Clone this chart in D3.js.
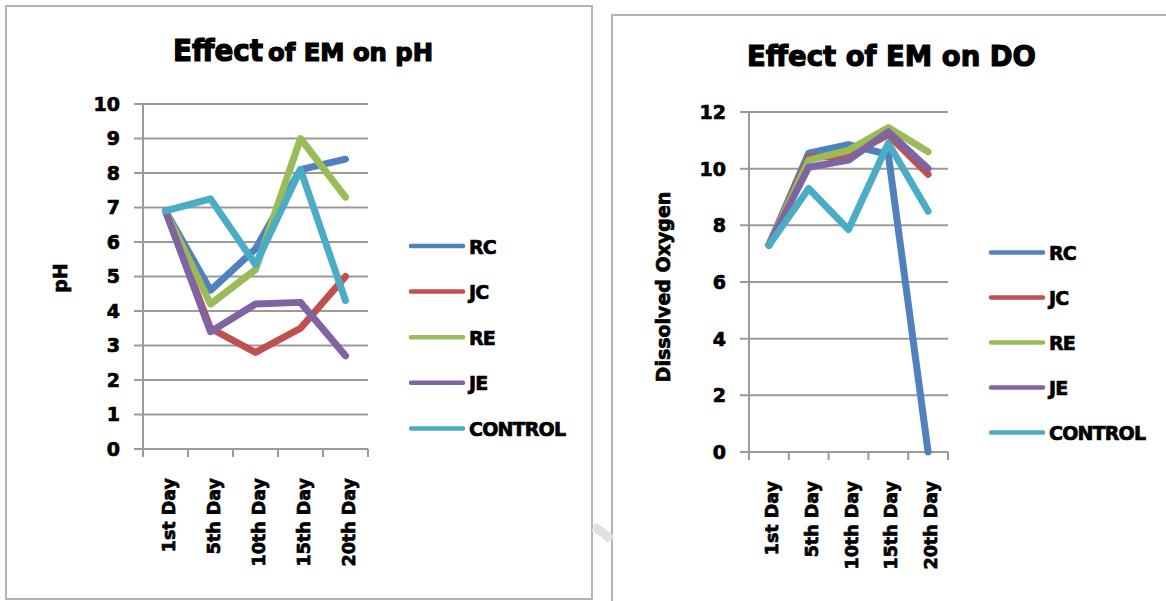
<!DOCTYPE html>
<html>
<head>
<meta charset="utf-8">
<script src="https://cdn.jsdelivr.net/npm/d3@7"></script>
<style>
  html, body { margin: 0; padding: 0; background: #fff; }
  svg { display: block; font-family: "DejaVu Sans", Verdana, sans-serif; font-weight: bold; }
  svg text { stroke: #000; stroke-width: 0.7px; paint-order: stroke; }
  svg text.title { stroke-width: 1.2px; }
</style>
</head>
<body>
<svg id="chart" width="1166" height="601"></svg>
<script>
// ---------- data ----------
const days = ["1st Day", "5th Day", "10th Day", "15th Day", "20th Day"];
const seriesNames = ["RC", "JC", "RE", "JE", "CONTROL"];
const seriesColors = ["#4F81BD", "#C0504D", "#9BBB59", "#8064A2", "#4BACC6"];

// pH values
const phRC      = [6.9, 4.6, 5.8, 8.1, 8.4];
const phJC      = [6.9, 3.5, 2.8, 3.5, 5.0];
const phRE      = [6.9, 4.2, 5.2, 9.0, 7.3];
const phJE      = [6.9, 3.4, 4.2, 4.25, 2.7];
const phCONTROL = [6.9, 7.25, 5.35, 8.1, 4.3];
const phTicks   = [0, 1, 2, 3, 4, 5, 6, 7, 8, 9, 10];

// Dissolved oxygen values
const doRC      = [7.3, 10.55, 10.85, 10.5, 0];
const doJC      = [7.3, 10.4, 10.45, 11.2, 9.8];
const doRE      = [7.3, 10.3, 10.65, 11.45, 10.6];
const doJE      = [7.3, 10.05, 10.3, 11.3, 10.0];
const doCONTROL = [7.3, 9.3, 7.85, 10.9, 8.5];
const doTicks   = [0, 2, 4, 6, 8, 10, 12];

const svg = d3.select("#chart");

// ---------- frames ----------
svg.append("rect").attr("x", 6).attr("y", 6).attr("width", 586).attr("height", 593)
  .attr("fill", "none").attr("stroke", "#b3b3b3").attr("stroke-width", 2);
svg.append("rect").attr("x", 612).attr("y", 15).attr("width", 600).attr("height", 600)
  .attr("fill", "none").attr("stroke", "#b3b3b3").attr("stroke-width", 2);
// faint watermark arc
svg.append("path").attr("d", "M593,527 Q603,531 611,540")
  .attr("fill", "none").attr("stroke", "#e2e2e2").attr("stroke-width", 9);

function drawChart(cfg) {
  const g = svg.append("g");
  const x = d3.scaleBand().domain(days).range([cfg.x0, cfg.x1]);
  const y = d3.scaleLinear().domain([0, cfg.yMax]).range([cfg.y0, cfg.y1]);

  // gridlines
  g.selectAll(".grid").data(cfg.ticks).enter().append("line")
    .attr("x1", cfg.x0 - 9).attr("x2", cfg.x1)
    .attr("y1", d => y(d)).attr("y2", d => y(d))
    .attr("stroke", "#9a9a9a").attr("stroke-width", 2);

  // y axis line
  g.append("line").attr("x1", cfg.x0).attr("x2", cfg.x0)
    .attr("y1", y(cfg.yMax)).attr("y2", cfg.y0 + 8)
    .attr("stroke", "#9a9a9a").attr("stroke-width", 2);

  // x ticks at band boundaries
  const bounds = days.map(d => x(d)).concat([cfg.x1]);
  g.selectAll(".xt").data(bounds.slice(1)).enter().append("line")
    .attr("x1", d => d).attr("x2", d => d)
    .attr("y1", cfg.y0).attr("y2", cfg.y0 + 8)
    .attr("stroke", "#9a9a9a").attr("stroke-width", 2);

  // y tick labels
  g.selectAll(".yl").data(cfg.ticks).enter().append("text")
    .attr("x", cfg.x0 - 23).attr("y", d => y(d)).attr("dy", "0.36em")
    .attr("text-anchor", "end").attr("font-size", 19).attr("fill", "#000")
    .text(d => d);

  // x labels
  g.selectAll(".xl").data(days).enter().append("text")
    .attr("transform", d => `translate(${x(d) + x.bandwidth() / 2 + 3},${cfg.y0 + 29}) rotate(-90)`)
    .attr("text-anchor", "end").attr("dy", "0.35em")
    .attr("font-size", 17.5).attr("fill", "#000")
    .text(d => d);

  // y axis title
  g.append("text")
    .attr("transform", `translate(${cfg.yTitleX},${cfg.yTitleY}) rotate(-90)`)
    .attr("text-anchor", "middle").attr("font-size", 19).attr("fill", "#000")
    .text(cfg.yTitle);

  // lines
  const line = d3.line()
    .x((d, i) => x(days[i]) + x.bandwidth() / 2)
    .y(d => y(d));
  cfg.series.forEach((vals, k) => {
    g.append("path").datum(vals)
      .attr("d", line)
      .attr("fill", "none")
      .attr("stroke", seriesColors[k])
      .attr("stroke-width", 7)
      .attr("stroke-linejoin", "round")
      .attr("stroke-linecap", "round");
  });

  // legend
  seriesNames.forEach((name, k) => {
    const ly = cfg.legY + k * cfg.legStep;
    g.append("line").attr("x1", cfg.legX).attr("x2", cfg.legX + 52)
      .attr("y1", ly).attr("y2", ly)
      .attr("stroke", seriesColors[k]).attr("stroke-width", 4.5).attr("stroke-linecap", "round");
    g.append("text").attr("x", cfg.legX + 58).attr("y", ly).attr("dy", "0.4em")
      .attr("font-size", 19).attr("letter-spacing", -0.8).attr("fill", "#000")
      .text(name);
  });
}

// ---------- pH chart ----------
drawChart({
  x0: 143, x1: 368, y0: 449, y1: 104, yMax: 10, ticks: phTicks,
  series: [phRC, phJC, phRE, phJE, phCONTROL],
  yTitle: "pH", yTitleX: 67, yTitleY: 278,
  legX: 411, legY: 246, legStep: 45.6
});
svg.append("text").attr("class", "title").attr("x", 173).attr("y", 60.5).attr("font-size", 30)
  .attr("textLength", 90).attr("lengthAdjust", "spacingAndGlyphs").text("Effect");
svg.append("text").attr("class", "title").attr("x", 268).attr("y", 60.5).attr("font-size", 24)
  .attr("textLength", 165).attr("lengthAdjust", "spacingAndGlyphs").text("of EM on pH");

// ---------- DO chart ----------
drawChart({
  x0: 749, x1: 948, y0: 452, y1: 112, yMax: 12, ticks: doTicks,
  series: [doRC, doJC, doRE, doJE, doCONTROL],
  yTitle: "Dissolved Oxygen", yTitleX: 670, yTitleY: 287,
  legX: 991, legY: 252.5, legStep: 45
});
svg.append("text").attr("class", "title").attr("x", 747).attr("y", 66).attr("font-size", 29)
  .attr("textLength", 289).attr("lengthAdjust", "spacingAndGlyphs").text("Effect of EM on DO");
</script>
</body>
</html>
